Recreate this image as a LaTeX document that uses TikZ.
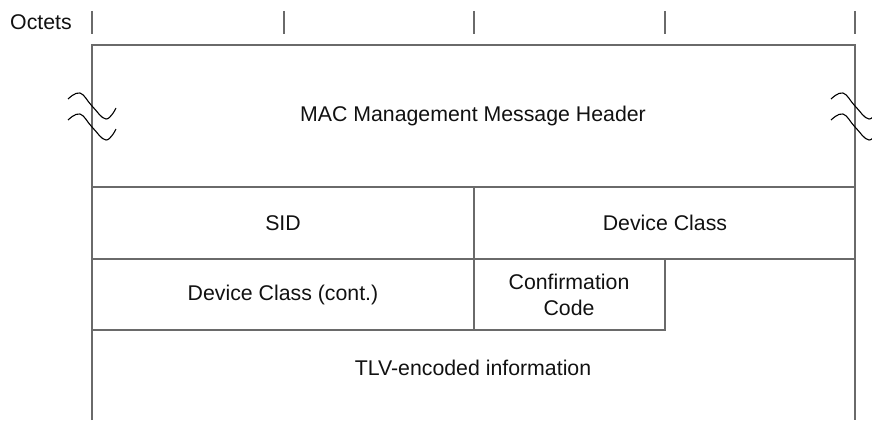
\documentclass[tikz,border=0pt]{standalone}
\usepackage{fontspec}
\setmainfont{Liberation Sans}
\usetikzlibrary{positioning}
\definecolor{rule}{HTML}{6A6A6A}
\definecolor{ink} {HTML}{111111}

\begin{document}
\begin{tikzpicture}[x=1pt, y=-1pt,
    fdtext/.style={font=\fontsize{21.3}{26}\selectfont, text=ink, align=center, inner sep=0pt},
    fdline/.style={draw=rule, line width=1.5pt},
    fdwave/.style={draw=black, line width=1.1pt}
  ]
    \useasboundingbox (0,0) rectangle (872,420);

    % octet ruler along the top
    \node[fdtext] (oct) at (41,22) {Octets};
    \foreach \x in {92,284,474,665,855}
      \draw[fdline] (\x,11) -- (\x,34);

    % frame and field borders; the sides run on past the bottom edge
    \draw[fdline] (92,420) -- (92,45) -- (855,45) -- (855,420);
    \draw[fdline] (92,187) -- (855,187);
    \draw[fdline] (92,259) -- (855,259);
    \draw[fdline] (92,330) -- (665,330) -- (665,259);
    \draw[fdline] (474,187) -- (474,330);

    % header is of variable length, so both sides carry a break mark
    \foreach \x in {92,855}
      \foreach \dy in {0,21}
        \draw[fdwave, shift={(\x-92,\dy)}]
          plot[smooth, tension=0.7] coordinates {(68,99) (80,93) (92,106) (106,119) (116,108)};

    \node[fdtext] (hdr) at (473,116) {MAC Management Message Header};
    \node[fdtext] (sid) at (283,223) {SID};
    \node[fdtext] (dc)  at (665,223) {Device Class};
    \node[fdtext] (dcc) at (283,295) {Device Class (cont.)};
    \node[fdtext] (cc)  at (569,295) {Confirmation\\Code};
    \node[fdtext] (tlv) at (473,368) {TLV-encoded information};
  \end{tikzpicture}
\end{document}
